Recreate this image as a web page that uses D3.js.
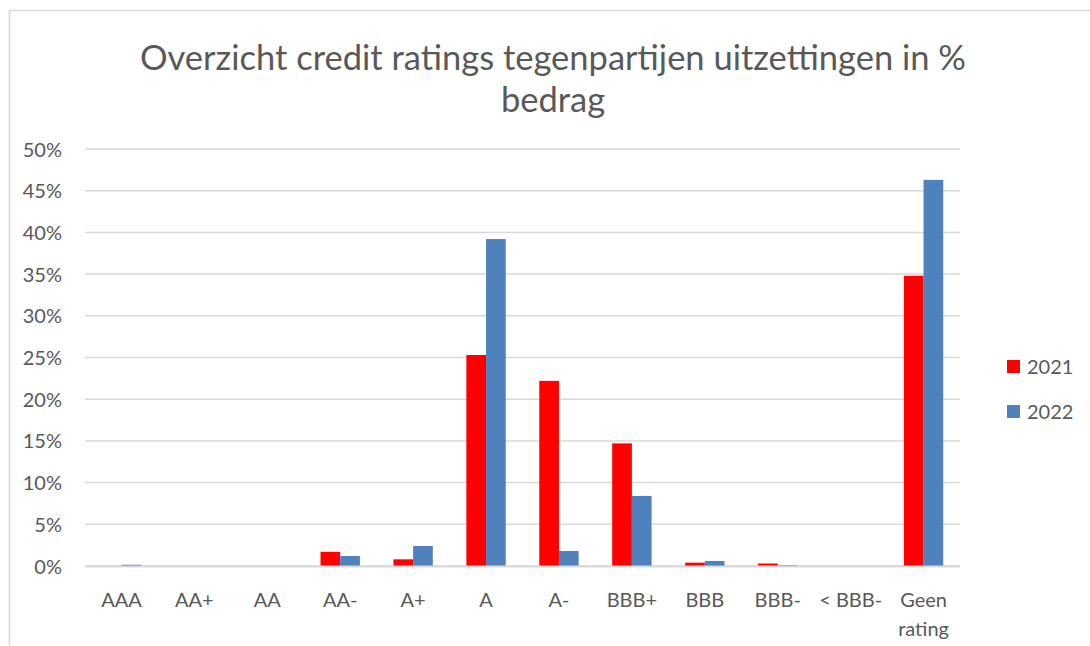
<!DOCTYPE html>
<html>
<head>
<meta charset="utf-8">
<script src="https://cdn.jsdelivr.net/npm/d3@7"></script>
<style>
  body { margin: 0; background: #fff; }
  text { font-family: Lato, "Open Sans", sans-serif; fill: #595959; }
</style>
</head>
<body>
<script>
"use strict";
(function() {
  // data (share of amount, %)
  var categories = ['AAA', 'AA+', 'AA', 'AA-', 'A+', 'A', 'A-', 'BBB+', 'BBB', 'BBB-', '< BBB-', 'Geen rating'];
  var years = ['2021', '2022'];
  var values2021 = [0, 0, 0, 1.7, 0.8, 25.3, 22.2, 14.7, 0.4, 0.3, 0, 34.8];
  var values2022 = [0.15, 0, 0, 1.2, 2.4, 39.2, 1.8, 8.4, 0.6, 0.1, 0, 46.3];
  var yTicks = [0, 5, 10, 15, 20, 25, 30, 35, 40, 45, 50];
  var colors = ['#ff0000', '#4f81bd'];

  var width = 1090, height = 646;
  var margin = {top: 149, right: 130, bottom: 80, left: 85};
  var labelSize = '20px';

  var svg = d3.select('body').append('svg')
    .attr('width', width)
    .attr('height', height);

  // chart frame
  svg.append('rect')
    .attr('x', 9.5).attr('y', 10.5)
    .attr('width', 1200).attr('height', 800)
    .attr('fill', 'none')
    .attr('stroke', '#d9d9d9')
    .attr('stroke-width', 1.5);

  // title
  var title = svg.append('text')
    .attr('text-anchor', 'middle')
    .style('font-size', '34.5px');
  title.append('tspan').attr('x', 553).attr('y', 70)
    .text('Overzicht credit ratings tegenpartijen uitzettingen in %');
  title.append('tspan').attr('x', 553).attr('y', 112)
    .text('bedrag');

  var x0 = d3.scaleBand()
    .domain(categories)
    .range([margin.left, 960])
    .paddingInner(0.46)
    .paddingOuter(0.23);

  var x1 = d3.scaleBand()
    .domain(years)
    .range([0, x0.bandwidth()]);

  var y = d3.scaleLinear()
    .domain([0, 50])
    .range([566, margin.top]);

  // gridlines
  svg.append('g')
    .selectAll('line')
    .data(yTicks)
    .enter()
    .append('line')
      .attr('x1', margin.left)
      .attr('x2', 960)
      .attr('y1', function(d) { return y(d); })
      .attr('y2', function(d) { return y(d); })
      .attr('stroke', '#d9d9d9')
      .attr('stroke-width', 1.5);

  // y axis labels
  var yAxis = d3.axisLeft(y)
    .tickValues(yTicks)
    .tickSize(0)
    .tickPadding(0)
    .tickFormat(function(d) { return d + '%'; });
  var gy = svg.append('g')
    .attr('transform', 'translate(62,0)')
    .call(yAxis);
  gy.select('.domain').remove();
  gy.selectAll('text')
    .attr('dy', '0.35em')
    .style('font-size', labelSize)
    .style('font-family', 'Lato, "Open Sans", sans-serif')
    .attr('fill', '#595959');

  // bars
  var rows = categories.map(function(c, i) {
    return {cat: c, vals: [values2021[i], values2022[i]]};
  });

  var groups = svg.append('g')
    .selectAll('g')
    .data(rows)
    .enter()
    .append('g')
      .attr('transform', function(d) { return 'translate(' + x0(d.cat) + ',0)'; });

  groups.selectAll('rect')
    .data(function(d) {
      return years.map(function(yr, j) { return {year: yr, value: d.vals[j], idx: j}; });
    })
    .enter()
    .append('rect')
      .attr('x', function(d) { return x1(d.year); })
      .attr('y', function(d) { return y(d.value); })
      .attr('width', x1.bandwidth())
      .attr('height', function(d) { return 566 - y(d.value); })
      .attr('fill', function(d) { return colors[d.idx]; });

  // x axis baseline
  svg.append('line')
    .attr('x1', margin.left).attr('x2', 960)
    .attr('y1', 566.5).attr('y2', 566.5)
    .attr('stroke', '#d9d9d9')
    .attr('stroke-width', 2);

  // x axis labels (wrap when wider than the band step)
  var xAxis = d3.axisBottom(x0).tickSize(0).tickPadding(0);
  var gx = svg.append('g')
    .attr('transform', 'translate(0,' + 566 + ')')
    .call(xAxis);
  gx.select('.domain').remove();
  gx.selectAll('text')
    .style('font-size', labelSize)
    .style('font-family', 'Lato, "Open Sans", sans-serif')
    .attr('fill', '#595959')
    .attr('y', 41)
    .attr('dy', null)
    .each(function(d) {
      var t = d3.select(this);
      if (this.getComputedTextLength() > x0.step()) {
        var words = d.split(' ');
        t.text(null);
        words.forEach(function(w, i) {
          t.append('tspan').attr('x', 0).attr('y', 41 + i * 29).text(w);
        });
      }
    });

  // legend
  var legend = svg.append('g')
    .selectAll('g')
    .data(years)
    .enter()
    .append('g')
      .attr('transform', function(d, i) { return 'translate(1007,' + (360 + i * 45) + ')'; });
  legend.append('rect')
    .attr('width', 13).attr('height', 13)
    .attr('fill', function(d, i) { return colors[i]; });
  legend.append('text')
    .attr('x', 20).attr('y', 14)
    .style('font-size', labelSize)
    .text(function(d) { return d; });
})();
</script>
</body>
</html>
